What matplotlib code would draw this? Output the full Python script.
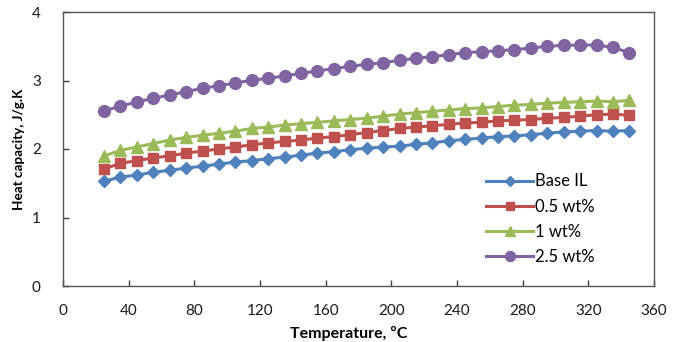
import matplotlib
matplotlib.use("Agg")
import matplotlib.pyplot as plt

plt.rcParams['font.family'] = ['Lato', 'DejaVu Sans']

temperature = list(range(25, 346, 10))
base_il = [1.53, 1.59, 1.62, 1.66, 1.69, 1.72, 1.75, 1.78, 1.81, 1.83, 1.86, 1.88,
           1.91, 1.94, 1.96, 1.99, 2.01, 2.03, 2.04, 2.07, 2.09, 2.12, 2.14, 2.16,
           2.18, 2.19, 2.21, 2.23, 2.25, 2.26, 2.27, 2.26, 2.27]
wt05 = [1.71, 1.79, 1.83, 1.87, 1.90, 1.94, 1.97, 2.00, 2.03, 2.06, 2.09, 2.11,
        2.13, 2.16, 2.18, 2.21, 2.24, 2.27, 2.30, 2.32, 2.34, 2.36, 2.38, 2.39,
        2.41, 2.42, 2.43, 2.45, 2.46, 2.48, 2.50, 2.51, 2.49]
wt1 = [1.90, 1.98, 2.03, 2.08, 2.13, 2.17, 2.20, 2.23, 2.26, 2.30, 2.32, 2.35,
       2.37, 2.39, 2.41, 2.43, 2.45, 2.48, 2.51, 2.53, 2.55, 2.57, 2.59, 2.60,
       2.62, 2.64, 2.65, 2.67, 2.68, 2.69, 2.70, 2.69, 2.71]
wt25 = [2.555, 2.628, 2.686, 2.74, 2.788, 2.837, 2.886, 2.924, 2.964, 3.003, 3.032,
        3.066, 3.105, 3.139, 3.173, 3.207, 3.236, 3.26, 3.294, 3.324, 3.348, 3.377,
        3.406, 3.421, 3.435, 3.45, 3.474, 3.499, 3.513, 3.518, 3.518, 3.484, 3.406]

labels = ["Base IL", "0.5 wt%", "1 wt%", "2.5 wt%"]
x_ticks = [0, 40, 80, 120, 160, 200, 240, 280, 320, 360]
y_ticks = [0, 1, 2, 3, 4]

fig = plt.figure(figsize=(6.73, 3.42), dpi=100)
ax = fig.add_axes([63/673, 56/342, (654-63)/673, (286-12)/342])

styles = [
    dict(color='#4F81BD', marker='D', ms=6),
    dict(color='#C0504D', marker='s', ms=7),
    dict(color='#9BBB59', marker='^', ms=8),
    dict(color='#8064A2', marker='o', ms=8.5),
]
for ys, lab, st in zip([base_il, wt05, wt1, wt25], labels, styles):
    ax.plot(temperature, ys, label=lab, lw=2.2, **st)

ax.set_xlim(0, 360)
ax.set_ylim(0, 4)
ax.set_xticks(x_ticks)
ax.set_yticks(y_ticks)
ax.tick_params(direction='in', length=4, width=1, colors='#404040',
               labelsize=11, labelcolor='#1a1a1a')
ax.tick_params(axis='x', pad=13)
ax.tick_params(axis='y', pad=16)
for s in ax.spines.values():
    s.set_color('#555555')
    s.set_linewidth(1)

ax.set_xlabel('Temperature, ºC', fontsize=11.5, fontweight='bold')
ax.xaxis.set_label_coords((349-63)/591, -0.145)
ax.set_ylabel('Heat capacity, J/g.K', fontsize=9.7, fontweight='bold')
ax.yaxis.set_label_coords(-0.064, 0.5)

ax.legend(loc='upper left', bbox_to_anchor=(0.705, 0.435), frameon=False,
          fontsize=12, handlelength=2.8, handletextpad=0.1, labelspacing=0.55,
          borderaxespad=0, markerscale=0.85)

fig.savefig('out.png', dpi=100)
